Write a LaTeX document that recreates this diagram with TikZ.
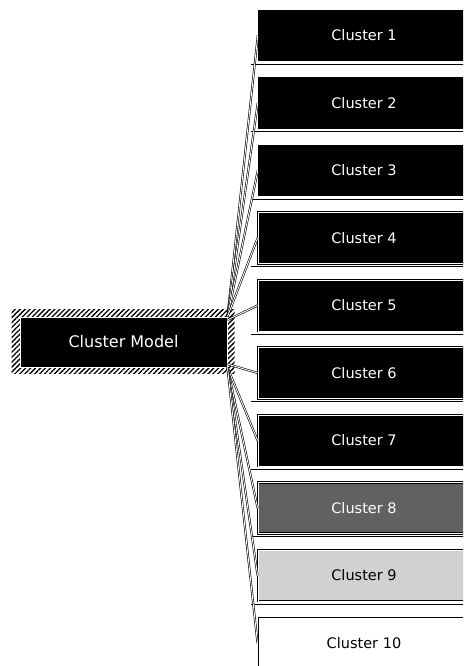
\documentclass[tikz,border=0pt]{standalone}
\usepackage{fontspec}
\setsansfont{DejaVu Sans}
\usetikzlibrary{positioning,patterns.meta,backgrounds}

\tikzset{
  cbox/.style={rectangle, minimum width=212pt, minimum height=51pt, inner sep=0pt,
    fill=black, text=white, font=\sffamily\fontsize{14.5}{17}\selectfont},
  framed/.style={draw=black, double=white, double distance=1pt, line width=0.8pt},
  link/.style={draw=black, double=white, double distance=0.9pt, line width=0.6pt},
  underline/.style={line width=1pt},
}

\begin{document}
\begin{tikzpicture}[x=1pt,y=-1pt,node distance=67.5pt,on grid]
  \useasboundingbox (0,0) rectangle (463,666);
  \clip (0,0) rectangle (463,666);
  % root
  \node[cbox,minimum width=207pt,minimum height=50pt,draw=white,line width=1pt,
        font=\sffamily\fontsize{16}{19}\selectfont] (model) at (123.5,342) {Cluster Model};
  \begin{scope}[on background layer]
    \fill[pattern={Lines[angle=45,distance=3.5pt,line width=1.3pt]}]
      ([shift={(-8pt,7pt)}]model.north west) rectangle ([shift={(7pt,-6pt)}]model.south east);
  \end{scope}
  % clusters
  \node[cbox] (c1) at (364,35.5) {Cluster 1};
  \node[cbox,below=of c1] (c2) {Cluster 2};
  \node[cbox,below=of c2] (c3) {Cluster 3};
  \node[cbox,framed,below=of c3] (c4) {Cluster 4};
  \node[cbox,framed,below=of c4] (c5) {Cluster 5};
  \node[cbox,framed,below=of c5] (c6) {Cluster 6};
  \node[cbox,framed,below=of c6] (c7) {Cluster 7};
  \node[cbox,framed,fill=black!62,below=of c7] (c8) {Cluster 8};
  \node[cbox,framed,fill=black!18,text=black,below=of c8] (c9) {Cluster 9};
  \node[cbox,draw=black,line width=1pt,fill=white,text=black,below=of c9] (c10) {Cluster 10};
  \foreach \i in {1,...,9}
    \draw[underline] ([xshift=-7pt,yshift=-3pt]c\i.south west) -- ([yshift=-3pt]c\i.south east);
  % links
  \foreach \i/\a in {1/north east,2/north east,3/north east,4/north east,5/12,
                     6/-12,7/south east,8/south east,9/south east,10/south east}
    \draw[link] (model.\a) -- (c\i.west);
\end{tikzpicture}
\end{document}
